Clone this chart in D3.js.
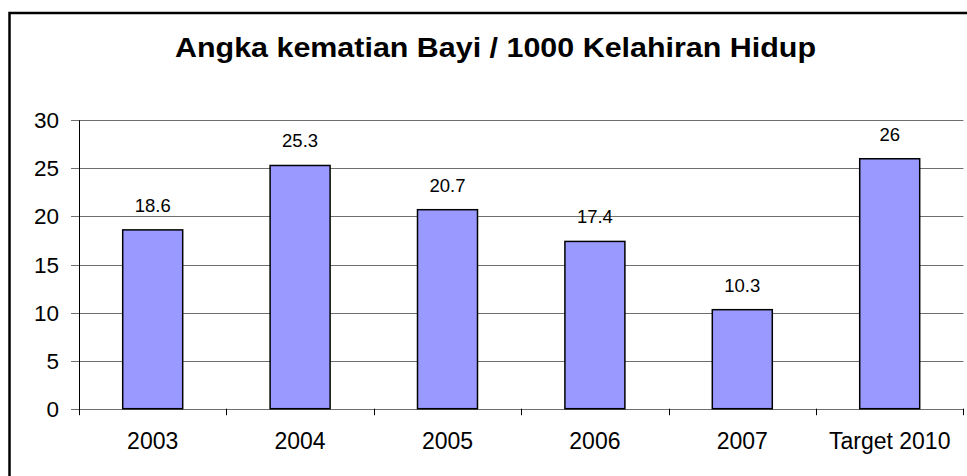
<!DOCTYPE html>
<html>
<head>
<meta charset="utf-8">
<script src="https://cdn.jsdelivr.net/npm/d3@7"></script>
<style>
    html, body { margin: 0; padding: 0; background: #fff; overflow: hidden; }
    text { font-family: Arial, "Liberation Sans", sans-serif; fill: #000; }
</style>
</head>
<body>
<div id="chart"></div>
<script>
'use strict';

// Chart data
const categories = ['2003', '2004', '2005', '2006', '2007', 'Target 2010'];
const values = [18.6, 25.3, 20.7, 17.4, 10.3, 26];
const yTicks = [0, 5, 10, 15, 20, 25, 30];
const chartTitle = 'Angka kematian Bayi / 1000 Kelahiran Hidup';

const width = 967;
const height = 476;

// plot area edges
const plotLeft = 79;
const plotRight = 963.4;
const plotTop = 120.3;
const plotBottom = 408.7;

function main() {
    let svg = d3.select('#chart')
        .append('svg')
        .attr('width', width)
        .attr('height', height);

    // Outer chart border (right and bottom edges fall outside the picture)
    svg.append('rect')
        .attr('x', 9.5)
        .attr('y', 13)
        .attr('width', 980)
        .attr('height', 480)
        .attr('fill', 'none')
        .attr('stroke', '#000')
        .attr('stroke-width', 2.5);

    // Title
    svg.append('text')
        .attr('x', 175)
        .attr('y', 56.7)
        .attr('textLength', 641)
        .attr('lengthAdjust', 'spacingAndGlyphs')
        .style('font-size', '27px')
        .style('font-weight', 'bold')
        .text(chartTitle);

    let x = d3.scaleBand()
        .domain(categories)
        .range([plotLeft, plotRight])
        .paddingInner(0.593)
        .paddingOuter(0.2965);

    let y = d3.scaleLinear()
        .domain([0, 30])
        .range([plotBottom, plotTop]);

    // Gridlines with short ticks on the left
    svg.append('g')
        .selectAll('line')
        .data(yTicks)
        .enter()
        .append('line')
        .attr('x1', plotLeft - 8)
        .attr('x2', plotRight)
        .attr('y1', d => Math.round(y(d)) + 0.5)
        .attr('y2', d => Math.round(y(d)) + 0.5)
        .attr('stroke', '#6e6e6e')
        .attr('stroke-width', 1);

    // Y tick labels
    svg.append('g')
        .selectAll('text')
        .data(yTicks)
        .enter()
        .append('text')
        .attr('x', 59)
        .attr('y', d => y(d) + 8)
        .attr('text-anchor', 'end')
        .style('font-size', '22.5px')
        .text(d => d);

    // Y axis line, runs down to the tick length
    svg.append('line')
        .attr('x1', plotLeft + 0.5)
        .attr('x2', plotLeft + 0.5)
        .attr('y1', plotTop)
        .attr('y2', plotBottom + 6.5)
        .attr('stroke', '#000')
        .attr('stroke-width', 1);

    // Category boundary ticks on the x axis
    let step = x.step();
    let boundaries = d3.range(categories.length + 1).map(i => plotLeft + i * step);
    svg.append('g')
        .selectAll('line')
        .data(boundaries.slice(1))
        .enter()
        .append('line')
        .attr('x1', d => Math.round(d) + 0.5)
        .attr('x2', d => Math.round(d) + 0.5)
        .attr('y1', plotBottom)
        .attr('y2', plotBottom + 6.5)
        .attr('stroke', '#000')
        .attr('stroke-width', 1);

    // Bars
    svg.append('g')
        .selectAll('rect')
        .data(values)
        .enter()
        .append('rect')
        .attr('x', (d, i) => x(categories[i]))
        .attr('y', d => y(d))
        .attr('width', x.bandwidth())
        .attr('height', d => y(0) - y(d))
        .attr('fill', '#9999FF')
        .attr('stroke', '#000')
        .attr('stroke-width', 1.5);

    // Value labels above bars
    svg.append('g')
        .selectAll('text')
        .data(values)
        .enter()
        .append('text')
        .attr('x', (d, i) => x(categories[i]) + x.bandwidth() / 2)
        .attr('y', d => y(d) - 18)
        .attr('text-anchor', 'middle')
        .style('font-size', '18.5px')
        .text(d => d);

    // Category labels
    svg.append('g')
        .selectAll('text')
        .data(categories)
        .enter()
        .append('text')
        .attr('x', d => x(d) + x.bandwidth() / 2)
        .attr('y', 449.3)
        .attr('text-anchor', 'middle')
        .style('font-size', '23px')
        .text(d => d);
}

main();
</script>
</body>
</html>
